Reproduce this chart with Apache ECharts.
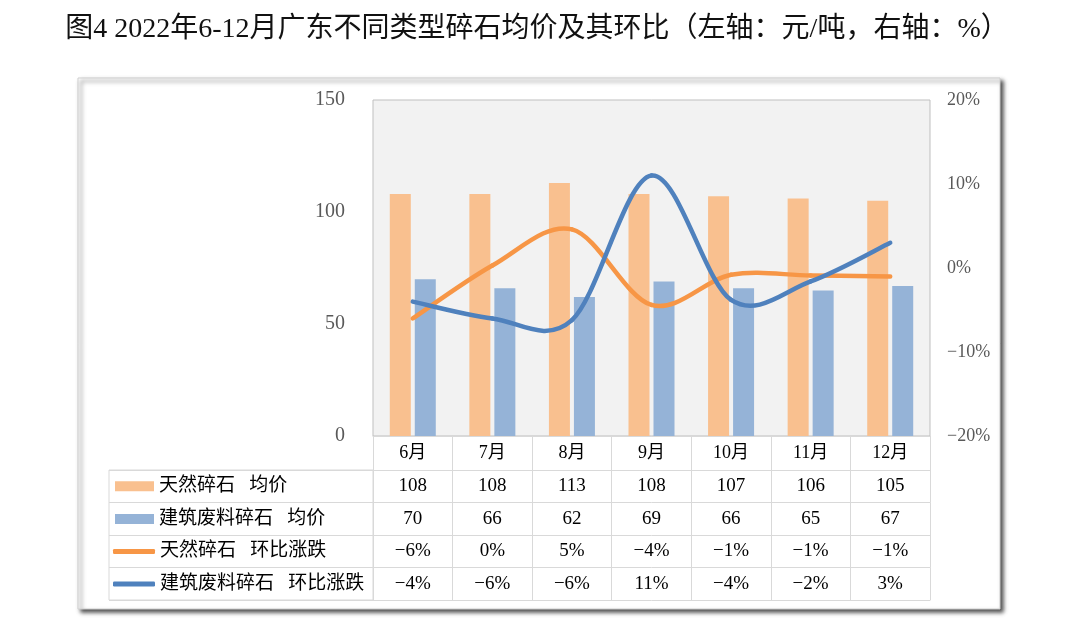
<!DOCTYPE html>
<html><head><meta charset="utf-8">
<script src="https://cdn.jsdelivr.net/npm/echarts@6/dist/echarts.min.js"></script>
<style>html,body{margin:0;padding:0;background:#fff}#c{width:1080px;height:641px}</style>
</head><body><div id="c"></div>
<script>
const months = ['6月','7月','8月','9月','10月','11月','12月'];
const natPrice = [108,108,113,108,107,106,105];
const wastePrice = [70,66,62,69,66,65,67];
const natMoM = [-6,0.3,4.6,-4.4,-0.8,-0.9,-1];
const wasteMoM = [-4,-6,-6.2,11,-3.8,-1.6,3];
const leftTicks = {min:0, max:150, interval:50};
const rightTicks = {min:-20, max:20, interval:10};
const names = ['天然碎石   均价','建筑废料碎石   均价','天然碎石   环比涨跌','建筑废料碎石   环比涨跌'];

const SERIF = "'Liberation Serif','Times New Roman','Noto Sans CJK SC',serif";
const fmtPct = v => { const r = Math.round(v); return (r < 0 ? '\u2212' + Math.abs(r) : String(r)) + '%'; };
const C = {orangeBar:'#f9c08f', blueBar:'#95b3d7', orangeLine:'#f79646', blueLine:'#4f81bd', grid:'#d9d9d9'};

const rows = [
  {vals: natPrice, f: v => String(v)},
  {vals: wastePrice, f: v => String(v)},
  {vals: natMoM, f: fmtPct},
  {vals: wasteMoM, f: fmtPct}
];
const headerH = 34, rowH = 32.5;

const xAxes = [{
  type:'category', data: months, gridIndex:0, position:'bottom', offset:0,
  axisLine:{show:true, onZero:false, lineStyle:{color:C.grid, width:1}},
  axisTick:{show:true, length:headerH, interval:0, lineStyle:{color:C.grid}},
  axisLabel:{margin:8, fontSize:18, color:'#000', fontFamily:SERIF, interval:0},
  splitLine:{show:false}
}];
rows.forEach((r, k) => {
  xAxes.push({
    type:'category', data: months, gridIndex:0, position:'bottom', offset: headerH + k*rowH,
    axisLine:{show:true, onZero:false, lineStyle:{color:C.grid, width:1}},
    axisTick:{show:true, length:rowH, interval:0, lineStyle:{color:C.grid}},
    axisLabel:{margin:7, fontSize:19, color:'#000', fontFamily:SERIF, interval:0,
      formatter:(v, i) => r.f(r.vals[i])},
    splitLine:{show:false}
  });
});
xAxes.push({
  type:'category', data: months, gridIndex:0, position:'bottom', offset: headerH + rows.length*rowH,
  axisLine:{show:true, onZero:false, lineStyle:{color:C.grid, width:1}},
  axisTick:{show:false}, axisLabel:{show:false}, splitLine:{show:false}
});
xAxes.push({type:'value', gridIndex:1, show:false, min:0, max:1});

const legendTops = [486.3, 519, 551.5, 584];
const legends = names.map((n, k) => ({
  data:[{name:n, icon: k < 2 ? 'rect' : 'roundRect'}], left: k < 2 ? 115 : 113, top: legendTops[k] - 10,
  itemWidth: k < 2 ? 39 : 42, itemHeight: k < 2 ? 10 : 5, padding:0,
  itemGap:0, selectedMode:false,
  textStyle:{fontSize:19, color:'#000', fontFamily:SERIF, lineHeight:20}
}));

// Excel-style smoothed line drawn through the library's coordinate system
function smoothLine(values, color) {
  return function (params, api) {
    if (params.dataIndex !== 0) return null;
    const p = values.map((v, i) => api.coord([i, v]));
    const children = [];
    for (let i = 0; i < p.length - 1; i++) {
      const p0 = p[Math.max(0, i - 1)], p1 = p[i], p2 = p[i + 1], p3 = p[Math.min(p.length - 1, i + 2)];
      children.push({
        type:'bezierCurve',
        shape:{x1:p1[0], y1:p1[1], x2:p2[0], y2:p2[1],
          cpx1:p1[0] + (p2[0] - p0[0]) / 6, cpy1:p1[1] + (p2[1] - p0[1]) / 6,
          cpx2:p2[0] - (p3[0] - p1[0]) / 6, cpy2:p2[1] - (p3[1] - p1[1]) / 6},
        style:{stroke:color, lineWidth:4.5, fill:null, lineCap:'round', lineJoin:'round'}
      });
    }
    return {type:'group', children};
  };
}

const option = {
  animation:false,
  backgroundColor:'#fff',
  title:{
    text:'图4 2022年6-12月广东不同类型碎石均价及其环比（左轴：元/吨，右轴：%）',
    left:532, top:11, textAlign:'center',
    textStyle:{fontSize:28, fontWeight:'normal', color:'#111', fontFamily:SERIF}
  },
  graphic:[{
    type:'rect', z:-100, silent:true,
    shape:{x:78, y:78, width:922, height:531},
    style:{fill:'#fff', stroke:'#cfcfcf', lineWidth:1, shadowBlur:4, shadowOffsetX:3, shadowOffsetY:3, shadowColor:'rgba(0,0,0,0.7)'}
  }],
  legend: legends,
  grid:[
    {left:373, right:150, top:100, bottom:205, show:true, backgroundColor:'#f2f2f2', borderColor:'#bfbfbf', borderWidth:1},
    {left:109, right:707, top:470, bottom:41, show:true, backgroundColor:'transparent', borderColor:C.grid, borderWidth:1}
  ],
  xAxis: xAxes,
  yAxis:[
    {type:'value', gridIndex:0, min:leftTicks.min, max:leftTicks.max, interval:leftTicks.interval,
     axisLine:{show:false}, axisTick:{show:false}, splitLine:{show:false},
     axisLabel:{margin:28, fontSize:20, color:'#595959', fontFamily:SERIF}},
    {type:'value', gridIndex:0, min:rightTicks.min, max:rightTicks.max, interval:rightTicks.interval, position:'right',
     axisLine:{show:false}, axisTick:{show:false}, splitLine:{show:false},
     axisLabel:{margin:17, fontSize:18, color:'#595959', fontFamily:SERIF, formatter: v => fmtPct(v)}},
    {type:'value', gridIndex:1, min:0, max:4, interval:1, axisLabel:{show:false}, axisLine:{show:false}, axisTick:{show:false},
     splitLine:{show:true, lineStyle:{color:C.grid, width:1}}}
  ],
  series:[
    {name:names[0], type:'bar', xAxisIndex:0, yAxisIndex:0, data:natPrice, barWidth:21, barGap:'19%', itemStyle:{color:C.orangeBar}},
    {name:names[1], type:'bar', xAxisIndex:0, yAxisIndex:0, data:wastePrice, barWidth:21, barGap:'19%', itemStyle:{color:C.blueBar}},
    {name:names[2], type:'custom', xAxisIndex:0, yAxisIndex:1, data:natMoM.map((v, i) => [i, v]),
     renderItem: smoothLine(natMoM, C.orangeLine), itemStyle:{color:C.orangeLine}, z:5},
    {name:names[3], type:'custom', xAxisIndex:0, yAxisIndex:1, data:wasteMoM.map((v, i) => [i, v]),
     renderItem: smoothLine(wasteMoM, C.blueLine), itemStyle:{color:C.blueLine}, z:6}
  ]
};
const chart = echarts.init(document.getElementById('c'), null, {renderer:'canvas'});
chart.setOption(option);
</script></body></html>
